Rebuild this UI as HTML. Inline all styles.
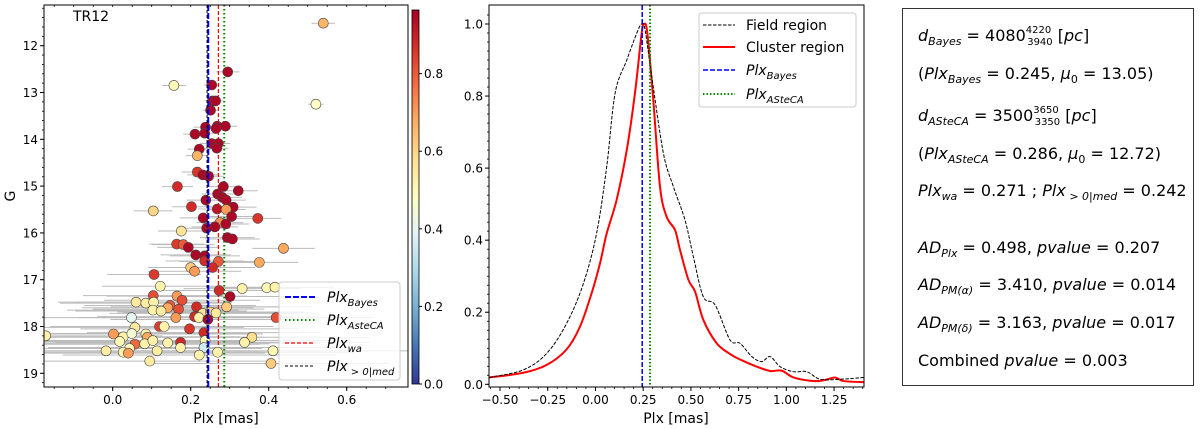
<!DOCTYPE html>
<html><head><meta charset="utf-8"><style>
html,body{margin:0;padding:0;background:#fff;}
svg{display:block;font-family:"DejaVu Sans","Liberation Sans",sans-serif;}
</style></head><body>
<svg id="fig" width="1200" height="429" viewBox="0 0 1200 429" xmlns="http://www.w3.org/2000/svg">
<g id="left"></g>
<g id="mid"></g>
<g id="right">
<rect x="902.5" y="8.5" width="291" height="377" fill="#fff" stroke="#333" stroke-width="1"/>
<g font-size="16" fill="#000">
<text x="918" y="41"><tspan font-style="italic">d</tspan><tspan font-size="11" dy="4" font-style="italic">Bayes</tspan><tspan dy="-4"> = 4080</tspan><tspan font-size="10" dy="-8">4220</tspan><tspan font-size="10" dx="-24" dy="12">3940</tspan><tspan dy="-4"> [</tspan><tspan font-style="italic">pc</tspan><tspan>]</tspan></text>
<text x="918" y="79">(<tspan font-style="italic">Plx</tspan><tspan font-size="11" dy="4" font-style="italic">Bayes</tspan><tspan dy="-4"> = 0.245,  </tspan><tspan font-style="italic">μ</tspan><tspan font-size="11" dy="4">0</tspan><tspan dy="-4"> = 13.05)</tspan></text>
<text x="918" y="121"><tspan font-style="italic">d</tspan><tspan font-size="11" dy="4" font-style="italic">ASteCA</tspan><tspan dy="-4"> = 3500</tspan><tspan font-size="10" dy="-8">3650</tspan><tspan font-size="10" dx="-24" dy="12">3350</tspan><tspan dy="-4"> [</tspan><tspan font-style="italic">pc</tspan><tspan>]</tspan></text>
<text x="918" y="159">(<tspan font-style="italic">Plx</tspan><tspan font-size="11" dy="4" font-style="italic">ASteCA</tspan><tspan dy="-4"> = 0.286,  </tspan><tspan font-style="italic">μ</tspan><tspan font-size="11" dy="4">0</tspan><tspan dy="-4"> = 12.72)</tspan></text>
<text x="918" y="196"><tspan font-style="italic">Plx</tspan><tspan font-size="11" dy="4" font-style="italic">wa</tspan><tspan dy="-4"> = 0.271 ; </tspan><tspan font-style="italic">Plx</tspan><tspan font-size="11" dy="4" font-style="italic"> &gt; 0|med</tspan><tspan dy="-4"> = 0.242</tspan></text>
<text x="918" y="253"><tspan font-style="italic">AD</tspan><tspan font-size="11" dy="4" font-style="italic">Plx</tspan><tspan dy="-4"> = 0.498,  </tspan><tspan font-style="italic">pvalue</tspan><tspan> = 0.207</tspan></text>
<text x="918" y="290"><tspan font-style="italic">AD</tspan><tspan font-size="11" dy="4" font-style="italic">PM(α)</tspan><tspan dy="-4"> = 3.410,  </tspan><tspan font-style="italic">pvalue</tspan><tspan> = 0.014</tspan></text>
<text x="918" y="328"><tspan font-style="italic">AD</tspan><tspan font-size="11" dy="4" font-style="italic">PM(δ)</tspan><tspan dy="-4"> = 3.163,  </tspan><tspan font-style="italic">pvalue</tspan><tspan> = 0.017</tspan></text>
<text x="918" y="366">Combined <tspan font-style="italic">pvalue</tspan><tspan> = 0.003</tspan></text>
</g>
</g>
</svg>
<script>
// ---- Left panel data ----
const starPlx=[0.540,0.295,0.157,0.254,0.256,0.264,0.251,0.521,0.238,0.268,0.289,0.265,0.211,0.236,0.254,0.271,0.267,0.222,0.217,0.217,0.231,0.246,0.166,0.284,0.322,0.269,0.281,0.291,0.239,0.202,0.309,0.268,0.291,0.104,0.232,0.305,0.372,0.275,0.290,0.262,0.241,0.176,0.294,0.307,0.164,0.181,0.194,0.438,0.213,0.236,0.236,0.271,0.376,0.200,0.210,0.256,0.106,0.122,0.332,0.395,0.416,0.273,0.104,0.165,0.301,0.178,0.060,0.085,0.105,0.147,0.141,0.215,0.292,0.103,0.124,0.169,0.231,0.251,0.265,0.048,0.162,0.210,0.221,0.244,0.419,0.057,0.120,0.132,0.197,-0.172,0.002,0.027,0.049,0.085,0.089,0.234,0.357,0.018,0.057,0.082,0.103,0.141,0.174,0.237,0.338,0.234,0.043,0.174,-0.017,0.027,0.040,0.114,0.222,0.269,0.411,0.095,0.406];
const starG=[11.52,12.56,12.85,12.84,13.18,13.18,13.38,13.25,13.74,13.72,13.72,13.77,13.89,13.87,14.09,14.09,14.19,14.21,14.35,14.70,14.76,14.79,15.01,15.01,15.10,15.17,15.24,15.30,15.30,15.44,15.45,15.49,15.50,15.53,15.68,15.65,15.69,15.78,15.81,15.87,15.90,15.96,16.10,16.13,16.24,16.25,16.31,16.33,16.47,16.49,16.60,16.61,16.63,16.74,16.82,16.74,16.89,17.14,17.19,17.17,17.16,17.23,17.34,17.35,17.36,17.44,17.48,17.50,17.48,17.55,17.60,17.58,17.58,17.65,17.67,17.63,17.72,17.69,17.71,17.81,17.81,17.79,17.81,17.85,17.81,18.02,18.00,18.00,18.05,18.20,18.16,18.22,18.15,18.16,18.23,18.13,18.23,18.32,18.38,18.37,18.30,18.35,18.34,18.30,18.34,18.45,18.47,18.45,18.52,18.55,18.57,18.52,18.61,18.55,18.52,18.74,18.79];
const starProb=[0.66,0.95,0.5,0.95,0.95,0.95,0.95,0.47,0.95,0.95,0.95,0.95,0.95,0.95,0.95,0.95,0.95,0.95,0.66,0.86,0.95,0.95,0.88,0.95,0.95,0.95,0.95,0.95,0.95,0.88,0.95,0.92,0.7,0.6,0.95,0.95,0.86,0.72,0.95,0.95,0.95,0.56,0.95,0.95,0.85,0.8,0.95,0.68,0.95,0.95,0.88,0.8,0.68,0.62,0.7,0.88,0.85,0.52,0.52,0.5,0.52,0.88,0.82,0.7,0.95,0.82,0.55,0.54,0.52,0.8,0.68,0.88,0.62,0.52,0.54,0.82,0.56,0.6,0.55,0.4,0.7,0.88,0.52,0.95,0.82,0.55,0.85,0.52,0.86,0.52,0.7,0.52,0.45,0.52,0.68,0.88,0.58,0.5,0.78,0.52,0.52,0.52,0.88,0.5,0.52,0.36,0.5,0.52,0.54,0.52,0.7,0.54,0.52,0.52,0.5,0.54,0.62];
const starErr=[0.03,0.03,0.03,0.02,0.02,0.02,0.02,0.02,0.03,0.03,0.03,0.03,0.03,0.03,0.03,0.03,0.03,0.03,0.03,0.04,0.04,0.04,0.04,0.04,0.05,0.04,0.05,0.05,0.05,0.05,0.06,0.05,0.05,0.05,0.06,0.06,0.06,0.06,0.06,0.06,0.06,0.06,0.07,0.07,0.07,0.08,0.08,0.08,0.09,0.09,0.1,0.1,0.1,0.11,0.12,0.11,0.12,0.15,0.15,0.15,0.15,0.15,0.18,0.18,0.18,0.2,0.2,0.22,0.2,0.22,0.22,0.22,0.22,0.22,0.22,0.22,0.24,0.24,0.24,0.25,0.25,0.25,0.25,0.25,0.25,0.28,0.28,0.28,0.28,0.3,0.3,0.3,0.3,0.3,0.3,0.3,0.3,0.32,0.32,0.32,0.32,0.32,0.32,0.32,0.32,0.34,0.34,0.34,0.35,0.35,0.35,0.35,0.35,0.35,0.35,0.3,0.3];
const vlinePlx={bayes:0.245,asteca:0.286,wa:0.271,med:0.242};
const lxTicks=[0.0,0.2,0.4,0.6];
const lxTickLabels=["0.0","0.2","0.4","0.6"];
const lyTicks=[12,13,14,15,16,17,18,19];
const cbTicks=[0.0,0.2,0.4,0.6,0.8];
// ---- Middle panel data ----
const clusterX=[-0.556,-0.378,-0.255,-0.151,-0.081,-0.020,0.024,0.059,0.111,0.164,0.207,0.242,0.255,0.272,0.303,0.338,0.373,0.417,0.443,0.487,0.522,0.565,0.635,0.705,0.757,0.845,0.915,0.976,1.037,1.142,1.203,1.255,1.299,1.407];
const clusterY=[0.019,0.032,0.054,0.097,0.160,0.253,0.336,0.419,0.512,0.650,0.808,0.974,1.0,0.974,0.789,0.549,0.465,0.428,0.373,0.290,0.257,0.179,0.114,0.084,0.069,0.049,0.037,0.038,0.019,0.009,0.012,0.019,0.009,0.006];
const fieldX=[-0.556,-0.378,-0.255,-0.151,-0.063,0.006,0.059,0.103,0.164,0.216,0.242,0.260,0.295,0.356,0.408,0.469,0.513,0.565,0.627,0.705,0.757,0.819,0.871,0.915,0.967,1.037,1.107,1.177,1.282,1.407];
const fieldY=[0.019,0.040,0.086,0.169,0.280,0.419,0.604,0.808,0.900,0.974,1.0,0.983,0.854,0.641,0.549,0.456,0.354,0.243,0.220,0.123,0.114,0.077,0.063,0.077,0.049,0.035,0.035,0.014,0.014,0.019];
const mxTicks=[-0.5,-0.25,0,0.25,0.5,0.75,1.0,1.25];
const mxTickLabels=["\u22120.50","\u22120.25","0.00","0.25","0.50","0.75","1.00","1.25"];
const myTicks=[0,0.2,0.4,0.6,0.8,1.0];
const myTickLabels=["0.0","0.2","0.4","0.6","0.8","1.0"];

const NS="http://www.w3.org/2000/svg";
function mk(parent,tag,attrs,txt){const e=document.createElementNS(NS,tag);for(const k in attrs)e.setAttribute(k,attrs[k]);if(txt!==undefined)e.textContent=txt;parent.appendChild(e);return e;}

// colormap RdYlBu_r
const cmapStops=[[49,54,149],[69,117,180],[116,173,209],[171,217,233],[224,243,248],[255,255,191],[254,224,144],[253,174,97],[244,109,67],[215,48,39],[165,0,38]];
function cmap(t){t=Math.max(0,Math.min(1,t));const f=t*10,i=Math.min(9,Math.floor(f)),r=f-i;const a=cmapStops[i],b=cmapStops[i+1];return `rgb(${Math.round(a[0]+(b[0]-a[0])*r)},${Math.round(a[1]+(b[1]-a[1])*r)},${Math.round(a[2]+(b[2]-a[2])*r)})`;}

// ---- Left panel ----
const L=document.getElementById('left');
const LX0=44,LX1=408,LY0=5,LY1=387;
const lxs=v=>112.7+390*v;
const lys=g=>45.7+46.8*(g-12);
const CBMAX=0.964;
mk(L,'clipPath',{id:'lclip'});
mk(document.getElementById('lclip'),'rect',{x:LX0,y:LY0,width:LX1-LX0,height:LY1-LY0});
const lg=mk(L,'g',{'clip-path':'url(#lclip)'});
const errG=mk(lg,'g',{});


for(let i=0;i<starPlx.length;i++){
  const y=lys(starG[i]);
  const l=mk(errG,'line',{x1:lxs(starPlx[i]-starErr[i]),x2:lxs(starPlx[i]+starErr[i]),y1:y,y2:y,stroke:'#bbb','stroke-width':1});
  
  
}
// vertical lines
function vline(parent,x,y0,y1,color,dash,w,name){const l=mk(parent,'line',{x1:x,x2:x,y1:y0,y2:y1,stroke:color,'stroke-width':w,'stroke-dasharray':dash});return l;}
vline(lg,lxs(vlinePlx.wa),LY0,LY1,'#f00','4 2',1.2,'plx-wa-line');
vline(lg,lxs(vlinePlx.asteca),LY0,LY1,'#080','1.5 2.5',2,'plx-asteca-line');
const ptG=mk(lg,'g',{});


for(let i=0;i<starPlx.length;i++){
  const c=mk(ptG,'circle',{cx:lxs(starPlx[i]),cy:lys(starG[i]),r:5,fill:cmap(starProb[i]/CBMAX),stroke:'#444','stroke-width':0.6});
  
  
}
vline(lg,lxs(vlinePlx.bayes),LY0,LY1,'#00f','6 2',2,'plx-bayes-line');
vline(lg,lxs(vlinePlx.med),LY0,LY1,'#000','3 2',1,'plx-med-line');
mk(L,'rect',{x:LX0,y:LY0,width:LX1-LX0,height:LY1-LY0,fill:'none',stroke:'#000','stroke-width':1});
// ticks
for(let v=-0.15;v<=0.75;v+=0.05){const x=lxs(v);if(x<LX0||x>LX1)continue;mk(L,'line',{x1:x,x2:x,y1:LY1,y2:LY1+2,stroke:'#000','stroke-width':0.8});mk(L,'line',{x1:x,x2:x,y1:LY0,y2:LY0+2,stroke:'#000','stroke-width':0.8});}
lxTicks.forEach((v,i)=>{const x=lxs(v);mk(L,'line',{x1:x,x2:x,y1:LY1,y2:LY1+4,stroke:'#000'});const t=mk(L,'text',{x:x,y:LY1+17,'font-size':12,'text-anchor':'middle'},lxTickLabels[i]);});
for(let g=11.2;g<=19.3;g+=0.2){const y=lys(g);if(y<LY0||y>LY1)continue;mk(L,'line',{x1:LX0-2,x2:LX0,y1:y,y2:y,stroke:'#000','stroke-width':0.8});}
lyTicks.forEach(g=>{const y=lys(g);mk(L,'line',{x1:LX0-4,x2:LX0,y1:y,y2:y,stroke:'#000'});const t=mk(L,'text',{x:LX0-6,y:y+4.5,'font-size':12,'text-anchor':'end'},String(g));});
let t=mk(L,'text',{x:226,y:423,'font-size':14,'text-anchor':'middle'},'Plx [mas]');
t=mk(L,'text',{x:15,y:196,'font-size':14,'text-anchor':'middle',transform:'rotate(-90 15 196)'},'G');
t=mk(L,'text',{x:73,y:21,'font-size':14},'TR12');
// legend left
const lleg=mk(L,'g',{});


mk(lleg,'rect',{x:279,y:282,width:121,height:98,rx:3,fill:'rgba(255,255,255,0.8)',stroke:'#ccc'});
const legL=[['#00f','6 2',2,'Bayes'],['#080','1.5 2.5',2,'AsteCA'],['#f00','4 2',1.2,'wa'],['#000','3 2',1,' > 0|med']];
legL.forEach((d,i)=>{const y=297+i*23;const e=mk(lleg,'g',{});
mk(e,'line',{x1:285,x2:315,y1:y,y2:y,stroke:d[0],'stroke-dasharray':d[1],'stroke-width':d[2]});
const tx=mk(e,'text',{x:327,y:y+5,'font-size':14,'font-style':'italic'});mk(tx,'tspan',{},'Plx');mk(tx,'tspan',{'font-size':10,dy:4},d[3]);});
// colorbar
const cb=mk(L,'g',{});


const CBX=412,CBW=7,CBT=10,CBB=384;
mk(cb,'linearGradient',{id:'cbg',x1:0,y1:1,x2:0,y2:0});
for(let k=0;k<=10;k++){mk(document.getElementById('cbg'),'stop',{offset:k/10,'stop-color':cmap(k/10)});}
mk(cb,'rect',{x:CBX,y:CBT,width:CBW,height:CBB-CBT,fill:'url(#cbg)',stroke:'#000','stroke-width':0.8});
cbTicks.forEach(v=>{const y=CBB-(CBB-CBT)*v/CBMAX;mk(cb,'line',{x1:CBX+CBW,x2:CBX+CBW+3,y1:y,y2:y,stroke:'#000'});const tt=mk(cb,'text',{x:CBX+CBW+5,y:y+4.5,'font-size':12},v.toFixed(1));});

// ---- Middle panel ----
const M=document.getElementById('mid');
const MX0=489,MX1=864,MY0=5,MY1=387;
const mxs=v=>500+190.9*(v+0.5);
const mys=v=>384.3-360.3*v;
mk(M,'clipPath',{id:'mclip'});
mk(document.getElementById('mclip'),'rect',{x:MX0,y:MY0,width:MX1-MX0,height:MY1-MY0});
const mg=mk(M,'g',{'clip-path':'url(#mclip)'});
function pathFrom(xs,ys){
  const P=xs.map((x,i)=>[mxs(x),mys(ys[i])]);
  let d=`M${P[0][0]},${P[0][1]}`;
  for(let i=0;i<P.length-1;i++){const p0=P[Math.max(0,i-1)],p1=P[i],p2=P[i+1],p3=P[Math.min(P.length-1,i+2)];
    const c1=[p1[0]+(p2[0]-p0[0])/6,p1[1]+(p2[1]-p0[1])/6],c2=[p2[0]-(p3[0]-p1[0])/6,p2[1]-(p3[1]-p1[1])/6];
    d+=` C${c1[0]},${c1[1]} ${c2[0]},${c2[1]} ${p2[0]},${p2[1]}`;}
  return d;}
let p=mk(mg,'path',{d:pathFrom(clusterX,clusterY),fill:'none',stroke:'#f00','stroke-width':2});


p=mk(mg,'path',{d:pathFrom(fieldX,fieldY),fill:'none',stroke:'#000','stroke-width':1,'stroke-dasharray':'3.5 1.5'});


vline(mg,mxs(vlinePlx.bayes),MY0,MY1,'#00f','5 2',1.5,'plx-bayes-line');
vline(mg,mxs(vlinePlx.asteca),MY0,MY1,'#080','1.5 2',2,'plx-asteca-line');
mk(M,'rect',{x:MX0,y:MY0,width:MX1-MX0,height:MY1-MY0,fill:'none',stroke:'#000','stroke-width':1});
for(let v=-0.55;v<=1.41;v+=0.05){const x=mxs(v);if(x<MX0||x>MX1)continue;mk(M,'line',{x1:x,x2:x,y1:MY1,y2:MY1+2,stroke:'#000','stroke-width':0.8});}
mxTicks.forEach((v,i)=>{const x=mxs(v);mk(M,'line',{x1:x,x2:x,y1:MY1,y2:MY1+4,stroke:'#000'});const tt=mk(M,'text',{x:x,y:MY1+17,'font-size':12,'text-anchor':'middle'},mxTickLabels[i]);});
for(let v=0;v<=1.05;v+=0.025){const y=mys(v);mk(M,'line',{x1:MX0-2,x2:MX0,y1:y,y2:y,stroke:'#000','stroke-width':0.8});}
myTicks.forEach((v,i)=>{const y=mys(v);mk(M,'line',{x1:MX0-4,x2:MX0,y1:y,y2:y,stroke:'#000'});const tt=mk(M,'text',{x:MX0-6,y:y+4.5,'font-size':12,'text-anchor':'end'},myTickLabels[i]);});
t=mk(M,'text',{x:676,y:423,'font-size':14,'text-anchor':'middle'},'Plx [mas]');
const mleg=mk(M,'g',{});


mk(mleg,'rect',{x:699,y:13,width:157,height:94,rx:3,fill:'rgba(255,255,255,0.8)',stroke:'#ccc'});
const legM=[['#000','3.5 1.5',1,'Field region',null],['#f00','',2,'Cluster region',null],['#00f','5 2',1.5,'Plx','Bayes'],['#080','1.5 2',2,'Plx','ASteCA']];
legM.forEach((d,i)=>{const y=[25,47,70,94][i];const e=mk(mleg,'g',{});
mk(e,'line',{x1:703,x2:735,y1:y,y2:y,stroke:d[0],'stroke-dasharray':d[1],'stroke-width':d[2]});
const tx=mk(e,'text',{x:746,y:y+5,'font-size':14});
if(d[4]){tx.setAttribute('font-style','italic');mk(tx,'tspan',{},d[3]);mk(tx,'tspan',{'font-size':10,dy:4},d[4]);}else tx.textContent=d[3];});
</script>
</body></html>
